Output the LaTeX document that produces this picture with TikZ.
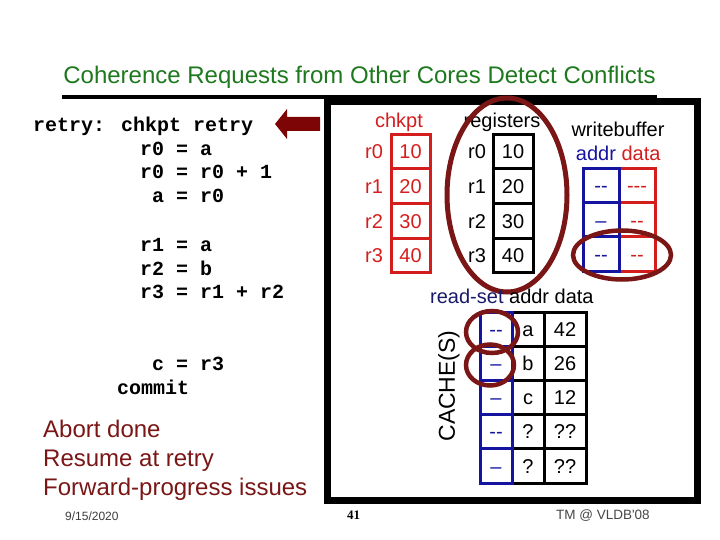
\documentclass[tikz,border=0pt]{standalone}
\usepackage{fontspec}
\setmainfont{Liberation Sans}
\newfontfamily\codefont{Liberation Mono}
\newfontfamily\serifont{Liberation Serif}
\definecolor{titlegreen}{RGB}{30,120,30}
\definecolor{maroon}{RGB}{122,22,22}
\definecolor{cred}{RGB}{212,30,30}
\definecolor{cblue}{RGB}{20,20,160}
\definecolor{cnavy}{RGB}{25,25,105}
\definecolor{arrowc}{RGB}{125,5,5}
\begin{document}
\begin{tikzpicture}[x=1pt,y=-1pt,
  code/.style={font=\codefont\bfseries\fontsize{20}{24}\selectfont, inner sep=0pt, anchor=base west},
  brown/.style={font=\fontsize{24}{28}\selectfont, text=maroon, inner sep=0pt, anchor=base west},
  lbl/.style={font=\fontsize{20}{24}\selectfont, inner sep=0pt, text height=14.4pt, text depth=0pt},
  rcell/.style={lbl, draw=cred, text=cred, line width=3pt, minimum width=39pt, minimum height=34.75pt},
  kcell/.style={lbl, draw=black, line width=3pt, minimum height=34.75pt},
  bcell/.style={lbl, draw=cblue, text=cblue, line width=3pt, minimum height=34.2pt},
  ring/.style={draw=maroon, line width=4.5pt}
]
\useasboundingbox (0,0) rectangle (720,540);

% title
\node[font=\fontsize{24}{28}\selectfont, text=titlegreen, inner sep=0pt, anchor=base] (title) at (359.5,84) {Coherence Requests from Other Cores Detect Conflicts};
\draw[line width=3.5pt] (62,97) -- (657,97);

% frame
\draw[line width=6.5pt] (327.5,101.5) rectangle (697.5,500.5);

% code
\node[code] (l1) at (33,132) {retry: chkpt retry};
\node[code] (l2) at (140,155.5) {r0 = a};
\node[code] (l3) at (140,179) {r0 = r0 + 1};
\node[code] (l4) at (152,202.5) {a = r0};
\node[code] (l5) at (140,251.5) {r1 = a};
\node[code] (l6) at (140,275) {r2 = b};
\node[code] (l7) at (140,298.5) {r3 = r1 + r2};
\node[code] (l8) at (152,370) {c = r3};
\node[code] (l9) at (117,394) {commit};

% arrow
\fill[arrowc] (320,117) -- (287,117) -- (287,109) -- (275,124) -- (287,139) -- (287,131) -- (320,131) -- cycle;

% brown text
\node[brown] (b1) at (43,437) {Abort done};
\node[brown] (b2) at (43,466) {Resume at retry};
\node[brown] (b3) at (43,495) {Forward-progress issues};

% footer
\node[font=\fontsize{12}{14}\selectfont, text={rgb,255:red,60;green,60;blue,60}, inner sep=0pt, anchor=base west] (date) at (65,520.5) {9/15/2020};
\node[font=\serifont\bfseries\fontsize{13}{15}\selectfont, inner sep=0pt, anchor=base west] (pg) at (347,519) {41};
\node[font=\fontsize{13.5}{15}\selectfont, text={rgb,255:red,70;green,70;blue,70}, inner sep=0pt, anchor=base west] (tm) at (556,519) {TM @ VLDB\textquotesingle08};

% chkpt
\node[lbl, text=cred] (chk) at (399,120) {chkpt};
\foreach \i/\v/\y in {0/10/151.4,1/20/186.1,2/30/220.9,3/40/255.6}{
  \node[lbl, text=cred] (cl\i) at (374,\y) {r\i};
  \node[rcell] (cv\i) at (410.5,\y) {\v};
}

% registers
\node[lbl] (reg) at (502,120) {registers};
\foreach \i/\v/\y in {0/10/151.4,1/20/186.1,2/30/220.9,3/40/255.6}{
  \node[lbl] (rl\i) at (477,\y) {r\i};
  \node[kcell, minimum width=40pt] (rv\i) at (513,\y) {\v};
}
\draw[ring, line width=5pt] (507,195) ellipse [x radius=60, y radius=97];

% writebuffer
\node[lbl] (wb) at (618,129) {writebuffer};
\node[lbl, text=cblue] (waddr) at (596,153) {addr};
\node[lbl, text=cred] (wdata) at (641,153) {data};
\node[bcell, draw=cred, text=cred, minimum width=36pt] (wd1) at (637,185.6) {-\kern0pt-\kern0pt-};
\node[bcell, draw=cred, text=cred, minimum width=36pt] (wd2) at (637,219.8) {-\kern0pt-};
\node[bcell, draw=cred, text=cred, minimum width=36pt] (wd3) at (637,254.0) {-\kern0pt-};
\node[bcell, minimum width=36pt] (wa1) at (601,185.6) {-\kern0pt-};
\node[bcell, minimum width=36pt] (wa2) at (601,219.8) {–};
\node[bcell, minimum width=36pt] (wa3) at (601,254.0) {-\kern0pt-};
\draw[ring] (622,255) ellipse [x radius=49, y radius=24.5];

% cache
\node[lbl, anchor=base west, text height=, text depth=] (rs) at (430,303) {\textcolor{cnavy}{read-set} addr data};
\node[lbl, rotate=90, text height=, text depth=, font=\fontsize{23}{26}\selectfont] (cache) at (449,386) {CACHE(S)};
\foreach \i/\a/\b/\y in {1/a/42/329.1,2/b/26/363.3,3/c/12/397.5,4/?/??/431.7,5/?/??/465.9}{
  \node[kcell, minimum width=32pt, minimum height=34.2pt] (cm\i) at (528,\y) {\a};
  \node[kcell, minimum width=42pt, minimum height=34.2pt] (cd\i) at (565,\y) {\b};
}
\node[bcell, minimum width=32pt] (cb1) at (496,329.1) {-\kern0pt-};
\node[bcell, minimum width=32pt] (cb2) at (496,363.3) {–};
\node[bcell, minimum width=32pt] (cb3) at (496,397.5) {–};
\node[bcell, minimum width=32pt] (cb4) at (496,431.7) {-\kern0pt-};
\node[bcell, minimum width=32pt] (cb5) at (496,465.9) {–};
\draw[ring] (492,332) ellipse [x radius=26, y radius=21];
\draw[ring] (490,365) ellipse [x radius=24, y radius=20.5];
\end{tikzpicture}
\end{document}
